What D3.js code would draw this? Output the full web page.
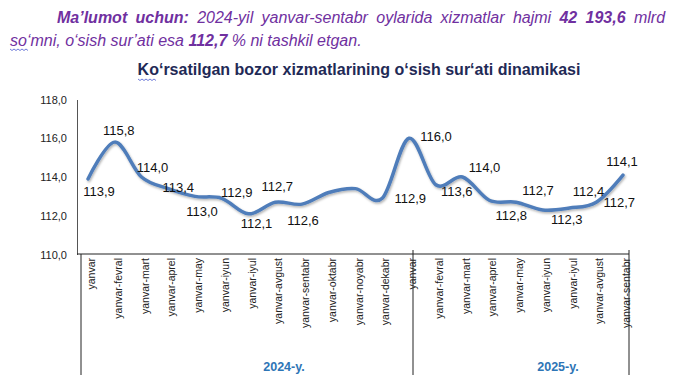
<!DOCTYPE html>
<html>
<head>
<meta charset="utf-8">
<script src="https://cdn.jsdelivr.net/npm/d3@7/dist/d3.min.js"></script>
<style>
  body { margin: 0; background: #fff; }
  svg { display: block; font-family: Arial, "Liberation Sans", sans-serif; }
</style>
</head>
<body>
<div id="chart"></div>
<script>
// months of each year group
const months2024 = ['yanvar', 'yanvar-fevral', 'yanvar-mart', 'yanvar-aprel', 'yanvar-may', 'yanvar-iyun',
  'yanvar-iyul', 'yanvar-avgust', 'yanvar-sentabr', 'yanvar-oktabr', 'yanvar-noyabr', 'yanvar-dekabr']
const months2025 = ['yanvar', 'yanvar-fevral', 'yanvar-mart', 'yanvar-aprel', 'yanvar-may', 'yanvar-iyun',
  'yanvar-iyul', 'yanvar-avgust', 'yanvar-sentabr']
const groups = ['2024-y.', '2025-y.']

// growth rate, %
const values2024 = [113.9, 115.8, 114.0, 113.4, 113.0, 112.9, 112.1, 112.7, 112.6, 113.2, 113.4, 112.9]
const values2025 = [116.0, 113.6, 114.0, 112.8, 112.7, 112.3, 112.4, 112.7, 114.1]
// which points carry a value label (oktabr/noyabr 2024 have none)
const labelled2024 = [true, true, true, true, true, true, true, true, true, false, false, true]
const labelled2025 = [true, true, true, true, true, true, true, true, true]

const yTicks = [110, 112, 114, 116, 118]

// label offsets [dx, dy] from point, same order as points
const labelOffsets = [
  [11, 13], [4, -12], [11, -10], [10, -1], [7, 15], [15, -6], [8, 10], [2, -16], [1, 16], [0, 0], [0, 0], [28, 0],
  [27, -2], [21, 7], [22, -10], [22, 15], [22, -12], [24, 10], [19, -17], [23, 0], [-1, -14]
]

const width = 690
const height = 382
const fmt = v => d3.format('.1f')(v).replace('.', ',')

const points = [
  ...months2024.map((m, i) => ({ month: m, group: 0, value: values2024[i], label: labelled2024[i] })),
  ...months2025.map((m, i) => ({ month: m, group: 1, value: values2025[i], label: labelled2025[i] }))
]
points.forEach((d, i) => { d.i = i })

const svg = d3.select('#chart').append('svg')
  .attr('width', width)
  .attr('height', height)

const defs = svg.append('defs')
const shadow = defs.append('filter').attr('id', 'shadow')
  .attr('x', '-10%').attr('y', '-10%').attr('width', '120%').attr('height', '130%')
shadow.append('feDropShadow')
  .attr('dx', 1).attr('dy', 1.5).attr('stdDeviation', 1.2)
  .attr('flood-color', '#000').attr('flood-opacity', 0.3)

// header note
const purple = '#7030a0'
const note1 = svg.append('text')
  .attr('x', 57).attr('y', 23)
  .attr('font-size', 16).attr('font-style', 'italic').attr('fill', purple)
note1.append('tspan').attr('font-weight', 'bold').text('Ma’lumot uchun:')
note1.append('tspan').text(' 2024-yil yanvar-sentabr oylarida xizmatlar hajmi ')
note1.append('tspan').attr('font-weight', 'bold').text('42 193,6')
note1.append('tspan').text(' mlrd')
// justify the first line to the right margin
const natural = note1.node().getComputedTextLength()
const spaces = (note1.text().match(/ /g) || []).length
note1.style('word-spacing', ((665 - 57 - natural) / spaces) + 'px')

const note2 = svg.append('text')
  .attr('x', 10).attr('y', 46)
  .attr('font-size', 16).attr('font-style', 'italic').attr('fill', purple)
note2.append('tspan').text('so‘mni, o‘sish sur’ati esa ')
note2.append('tspan').attr('font-weight', 'bold').text('112,7')
note2.append('tspan').text(' % ni tashkil etgan.')

// title
svg.append('text')
  .attr('x', 359).attr('y', 75)
  .attr('text-anchor', 'middle')
  .attr('font-size', 16).attr('font-weight', 'bold').attr('fill', '#1f2a56')
  .text('Ko‘rsatilgan bozor xizmatlarining o‘sish sur‘ati dinamikasi')

// spell-check squiggles
const squiggle = (x0, x1, y) => {
  let p = `M${x0},${y}`
  for (let x = x0, k = 0; x < x1; x += 2, k++) p += `L${x + 2},${y + (k % 2 ? 0 : 1.5)}`
  return p
}
svg.append('path').attr('d', squiggle(10, 28, 49)).attr('fill', 'none').attr('stroke', '#4a5bd0').attr('stroke-width', 0.8)
svg.append('path').attr('d', squiggle(138, 156, 79)).attr('fill', 'none').attr('stroke', '#4a5bd0').attr('stroke-width', 0.8)

// scales
const x = d3.scalePoint().domain(points.map(d => d.i)).range([88, 623])
const y = d3.scaleLinear().domain([110, 118]).range([254.5, 99.5])
const axisY = 254

// y axis
const yAxis = svg.append('g')
  .attr('transform', 'translate(77,0)')
  .call(d3.axisLeft(y).tickValues(yTicks).tickSize(0).tickPadding(10).tickFormat(fmt))
yAxis.select('.domain').attr('stroke', '#555')
yAxis.selectAll('text').attr('font-size', 11).attr('fill', '#222').attr('font-family', 'Arial, "Liberation Sans", sans-serif')

// x axis
svg.append('line')
  .attr('x1', 77).attr('x2', x(points.length - 1) + 6)
  .attr('y1', axisY).attr('y2', axisY)
  .attr('stroke', '#222')

const xAxis = svg.append('g')
  .attr('transform', `translate(0,${axisY})`)
  .call(d3.axisBottom(x).tickSize(0).tickFormat(i => points[i].month))
xAxis.select('.domain').remove()
xAxis.selectAll('text')
  .attr('transform', 'rotate(-90)')
  .attr('x', -4).attr('y', 3).attr('dy', '0.35em')
  .style('text-anchor', 'end')
  .attr('font-size', 10.5).attr('fill', '#222')
  .attr('font-family', 'Arial, "Liberation Sans", sans-serif')

// group separators and labels
const seps = [x(0) - 7, x(months2024.length) + 4, x(points.length - 1) + 6]
svg.selectAll('line.sep').data(seps).join('line')
  .attr('class', 'sep')
  .attr('x1', d => d).attr('x2', d => d)
  .attr('y1', (d, i) => i === 0 ? axisY : axisY - 4).attr('y2', 375)
  .attr('stroke', '#222')

svg.selectAll('text.group').data(groups).join('text')
  .attr('class', 'group')
  .attr('x', (d, i) => (seps[i] + seps[i + 1]) / 2 + 37)
  .attr('y', 371)
  .attr('text-anchor', 'middle')
  .attr('font-size', 12.5).attr('font-weight', 'bold').attr('fill', '#2e75b6')
  .text(d => d)

// line
const line = d3.line()
  .x(d => x(d.i))
  .y(d => y(d.value))
  .curve(d3.curveCatmullRom.alpha(0))

svg.append('path')
  .datum(points)
  .attr('d', line)
  .attr('fill', 'none')
  .attr('stroke', '#4f7dba')
  .attr('stroke-width', 3.5)
  .attr('stroke-linecap', 'round')
  .attr('filter', 'url(#shadow)')

// value labels
svg.selectAll('text.val').data(points.filter(d => d.label)).join('text')
  .attr('class', 'val')
  .attr('x', d => x(d.i) + labelOffsets[d.i][0])
  .attr('y', d => y(d.value) + labelOffsets[d.i][1])
  .attr('dy', '0.35em')
  .attr('text-anchor', 'middle')
  .attr('font-size', 13).attr('fill', '#111')
  .text(d => fmt(d.value))
</script>
</body>
</html>
